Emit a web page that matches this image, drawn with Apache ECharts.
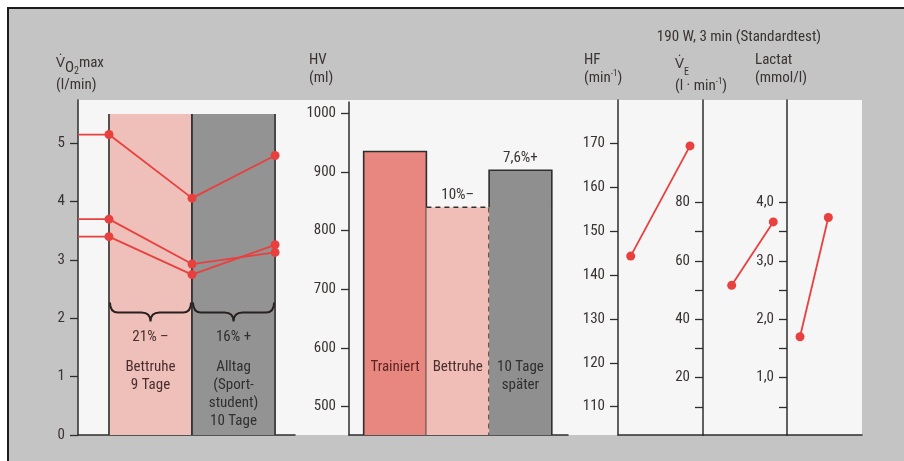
<!DOCTYPE html>
<html>
<head>
<meta charset="utf-8">
<script src="https://cdn.jsdelivr.net/npm/echarts@6/dist/echarts.min.js"></script>
<style>
  html, body { margin: 0; padding: 0; background: #ffffff; }
  #chart { width: 904px; height: 461px; }
</style>
</head>
<body>
<div id="chart"></div>
<script>
// ---- V̇O2max of three subjects: trained, after 9 days bed rest, after 10 days everyday life
const vo2Stages = [1, 2, 3];
const vo2SubjectA = [5.15, 4.06, 4.79];
const vo2SubjectB = [3.70, 2.93, 3.13];
const vo2SubjectC = [3.40, 2.75, 3.26];
const vo2Ticks = [0, 1, 2, 3, 4, 5];
const phaseStart = [1, 2];
const phaseEnd = [2, 3];
const phaseChange = ['21% –', '16% +'];
const phaseText = ['Bettruhe\n9 Tage', 'Alltag\n(Sport-\nstudent)\n10 Tage'];

// ---- heart volume (ml)
const hvPositions = [1, 2, 3];
const hvCategories = ['Trainiert', 'Bettruhe', '10 Tage\nspäter'];
const hvValues = [935, 840, 903];
const hvChange = ['', '10%–', '7,6%+'];
const hvTicks = [500, 600, 700, 800, 900, 1000];

// ---- standard test 190 W, 3 min: before / after
const testTimes = [0, 1];
const hfValues = [144.3, 169.4];
const hfTicks = [110, 120, 130, 140, 150, 160, 170];
const veValues = [51.6, 73.3];
const veLabels = [20, 40, 60, 80];
const veTicks = [10, 20, 30, 40, 50, 60, 70, 80];
const lactatValues = [1.70, 3.74];
const lactatLabels = [1, 2, 3, 4];
const lactatTicks = [0.5, 1, 1.5, 2, 2.5, 3, 3.5, 4];

const FONT = '"Roboto Condensed", "Open Sans", sans-serif';
const RED = '#e8403f';
const AXIS = '#2e2e2e';
const TEXT = '#3a3333';
const LABEL_TEXT = '#4a2f2f';

const chart = echarts.init(document.getElementById('chart'));

function valueYAxis(gridIndex, min, max, ticks, labels, formatter) {
  return {
    type: 'value', gridIndex, min, max, position: 'left',
    axisLine: { show: true, onZero: false, lineStyle: { color: AXIS, width: 1.5 } },
    axisTick: { show: true, length: 8, customValues: ticks, lineStyle: { color: AXIS, width: 1.3 } },
    axisLabel: {
      show: true, customValues: labels, margin: 13, color: TEXT,
      fontFamily: FONT, fontSize: 15, formatter: formatter || (v => String(v))
    },
    splitLine: { show: false }
  };
}
function plainXAxis(gridIndex, min, max) {
  return {
    type: 'value', gridIndex, min, max,
    axisLine: { show: true, onZero: false, lineStyle: { color: AXIS, width: 1.5 } },
    axisTick: { show: false }, axisLabel: { show: false }, splitLine: { show: false }
  };
}

const vo2XMin = 0.627;
function vo2Series(values) {
  const data = [{ value: [vo2XMin, values[0]], symbol: 'none' }]
    .concat(vo2Stages.map((s, i) => [s, values[i]]));
  return {
    type: 'line', xAxisIndex: 0, yAxisIndex: 0, data, z: 4,
    symbol: 'circle', symbolSize: 9, silent: true,
    lineStyle: { color: RED, width: 1.8 }, itemStyle: { color: RED }
  };
}
function testSeries(axisIndex, values) {
  return {
    type: 'line', xAxisIndex: axisIndex, yAxisIndex: axisIndex, z: 4,
    data: testTimes.map((t, i) => [t, values[i]]),
    symbol: 'circle', symbolSize: 9, silent: true,
    lineStyle: { color: RED, width: 1.8 }, itemStyle: { color: RED }
  };
}

// phase bands with braces and captions
const phaseBandTop = 5.5;
const phaseFill = ['#efbfba', '#939393'];
const phaseChangeColor = [LABEL_TEXT, '#2f2f2f'];
const braceLevel = 2.27;
const phaseChangeLevel = 1.68;
const phaseTextLevel = 1.32;

const phaseSeries = {
  type: 'custom', xAxisIndex: 0, yAxisIndex: 0, z: 1, silent: true,
  data: phaseStart.map((s, i) => [s, phaseEnd[i]]),
  renderItem(params, api) {
    const i = params.dataIndex;
    const tl = api.coord([api.value(0), phaseBandTop]);
    const br = api.coord([api.value(1), 0]);
    const x0 = tl[0], x1 = br[0], xm = (x0 + x1) / 2;
    const yb = api.coord([x0, braceLevel])[1];
    const ym = yb + 10, yt = yb + 19, r = 9;
    const brace = `M${x0 + 1},${yb} Q${x0 + 1},${ym} ${x0 + r},${ym} L${xm - r},${ym} ` +
      `Q${xm},${ym} ${xm},${yt} Q${xm},${ym} ${xm + r},${ym} L${x1 - r},${ym} Q${x1 - 1},${ym} ${x1 - 1},${yb}`;
    return {
      type: 'group',
      children: [
        { type: 'rect', shape: { x: x0, y: tl[1], width: x1 - x0, height: br[1] - tl[1] },
          style: { fill: phaseFill[i] } },
        { type: 'line', shape: { x1: x0, y1: tl[1], x2: x0, y2: br[1] },
          style: { stroke: AXIS, lineWidth: 1.6 } },
        { type: 'line', shape: { x1: x1, y1: tl[1], x2: x1, y2: br[1] },
          style: { stroke: AXIS, lineWidth: 1.6 } },
        { type: 'path', shape: { pathData: brace },
          style: { stroke: '#2a2020', lineWidth: 2, fill: 'none' } },
        { type: 'text', x: xm, y: api.coord([x0, phaseChangeLevel])[1],
          style: { text: phaseChange[i], align: 'center', verticalAlign: 'middle',
            font: `15px ${FONT}`, fill: phaseChangeColor[i] } },
        { type: 'text', x: xm, y: api.coord([x0, phaseTextLevel])[1],
          style: { text: phaseText[i], align: 'center', verticalAlign: 'top', lineHeight: 18,
            font: `15px ${FONT}`, fill: phaseChangeColor[i] } }
      ]
    };
  }
};

// heart volume bars
const hvMin = 451.8;
const hvFill = ['#e8877f', '#f0bdb7', '#8f8f8f'];
const hvTextColor = ['#5a2424', '#4a2f2f', '#2f2f2f'];
const hvLabelLevel = 583;
const hvSeries = {
  type: 'custom', xAxisIndex: 1, yAxisIndex: 1, z: 2, silent: true,
  data: hvPositions.map((p, i) => [p, hvValues[i]]),
  renderItem(params, api) {
    const i = params.dataIndex;
    const x = api.value(0), v = api.value(1);
    const lt = api.coord([x - 0.5, v]);
    const rb = api.coord([x + 0.5, hvMin]);
    const solid = { stroke: AXIS, lineWidth: 1.6, fill: 'none' };
    const dashed = { stroke: AXIS, lineWidth: 1.6, lineDash: [5, 4], fill: 'none' };
    const children = [
      { type: 'rect', shape: { x: lt[0], y: lt[1], width: rb[0] - lt[0], height: rb[1] - lt[1] },
        style: { fill: hvFill[i] } }
    ];
    if (i === 0) {
      children.push({ type: 'polyline', shape: { points: [[lt[0], rb[1]], [lt[0], lt[1]], [rb[0], lt[1]], [rb[0], rb[1]]] }, style: solid });
    } else if (i === 1) {
      children.push({ type: 'polyline', shape: { points: [[lt[0], lt[1]], [rb[0], lt[1]], [rb[0], rb[1]]] }, style: dashed });
    } else {
      const prevTop = api.coord([x - 0.5, hvValues[i - 1]])[1];
      children.push({ type: 'polyline', shape: { points: [[lt[0], prevTop], [lt[0], lt[1]], [rb[0], lt[1]], [rb[0], rb[1]]] }, style: solid });
    }
    const cx = (lt[0] + rb[0]) / 2;
    children.push({ type: 'text', x: cx, y: api.coord([x, hvLabelLevel])[1],
      style: { text: hvCategories[i], align: 'center', verticalAlign: 'top', lineHeight: 18,
        font: `15px ${FONT}`, fill: hvTextColor[i] } });
    if (hvChange[i]) {
      children.push({ type: 'text', x: cx, y: lt[1] - 4,
        style: { text: hvChange[i], align: 'center', verticalAlign: 'bottom',
          font: `15px ${FONT}`, fill: '#3a3333' } });
    }
    return { type: 'group', children };
  }
};

const richBase = {
  n: { fontFamily: FONT, fontSize: 15, color: TEXT, lineHeight: 18, verticalAlign: 'middle' },
  sup: { fontFamily: FONT, fontSize: 9, color: TEXT, lineHeight: 18, verticalAlign: 'top' },
  o: { fontFamily: FONT, fontSize: 15, color: TEXT, lineHeight: 22, verticalAlign: 'bottom' },
  sub: { fontFamily: FONT, fontSize: 10, color: TEXT, lineHeight: 26, verticalAlign: 'bottom' }
};
function headText(x, y, text) {
  return { type: 'text', x, y, z: 50,
    style: { text, rich: richBase, font: `15px ${FONT}`, fill: TEXT, verticalAlign: 'top' } };
}

const option = {
  animation: false,
  backgroundColor: '#ffffff',
  graphic: {
    elements: [
      { type: 'rect', z: -100, shape: { x: 8, y: 8, width: 940, height: 480 },
        style: { fill: '#c4c4c4', stroke: '#1c1c1c', lineWidth: 2 } },
      { type: 'rect', z: -90, shape: { x: 78, y: 100, width: 784, height: 335 },
        style: { fill: '#f6f6f6' } },
      headText(56, 50, '{n|V\u0307}{o|O}{sub|2}{n|max}\n{n|(l/min)}'),
      headText(309, 51, '{n|HV}\n{n|(ml)}'),
      headText(584, 51, '{n|HF}\n{n|(min}{sup|-1}{n|)}'),
      headText(675, 51, '{n|V\u0307}{sub|E}\n{n|(l · min}{sup|-1}{n|)}'),
      headText(755, 51, '{n|Lactat}\n{n|(mmol/l)}'),
      { type: 'text', x: 739, y: 37, z: 50,
        style: { text: '190 W, 3 min (Standardtest)', font: `15px ${FONT}`, fill: TEXT,
          align: 'center', verticalAlign: 'middle' } }
    ]
  },
  grid: [
    { left: 78, top: 100, width: 217, height: 335, outerBoundsMode: 'none' },
    { left: 349, top: 102, width: 219, height: 333, outerBoundsMode: 'none' },
    { left: 618, top: 100, width: 85, height: 335, outerBoundsMode: 'none' },
    { left: 703, top: 100, width: 84, height: 335, outerBoundsMode: 'none' },
    { left: 787, top: 100, width: 75, height: 335, outerBoundsMode: 'none' }
  ],
  xAxis: [
    plainXAxis(0, vo2XMin, 3.24),
    plainXAxis(1, 0.266, 3.758),
    plainXAxis(2, -0.214, 1.219),
    plainXAxis(3, -0.69, 1.33),
    plainXAxis(4, -0.46, 2.19)
  ],
  yAxis: [
    valueYAxis(0, 0, 5.742, vo2Ticks, vo2Ticks),
    valueYAxis(1, hvMin, 1019.3, hvTicks, hvTicks),
    valueYAxis(2, 103.55, 179.86, hfTicks, hfTicks),
    valueYAxis(3, 0.4, 115, veTicks, veLabels),
    valueYAxis(4, 0.02, 5.75, lactatTicks, lactatLabels, v => v.toFixed(1).replace('.', ','))
  ],
  series: [
    phaseSeries,
    vo2Series(vo2SubjectA),
    vo2Series(vo2SubjectB),
    vo2Series(vo2SubjectC),
    hvSeries,
    testSeries(2, hfValues),
    testSeries(3, veValues),
    testSeries(4, lactatValues)
  ]
};
chart.setOption(option);
</script>
</body>
</html>
